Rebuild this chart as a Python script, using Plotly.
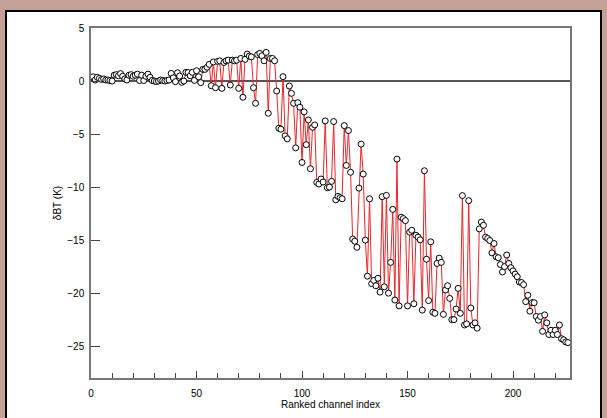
import plotly.graph_objects as go

# Ranked channel index values (0..226) and brightness temperature differences (K)
dbt = [
    0.35, 0.4, 0.1, 0.35, 0.25, 0.15, 0.2, 0.1, 0.1, 0.05,
    0.0, 0.55, 0.6, 0.5, 0.7, 0.45, 0.2, 0.1, 0.55, 0.6,
    0.45, 0.55, 0.65, 0.05, 0.55, 0.05, 0.45, 0.65, 0.35, 0.05,
    0.0, -0.05, 0.0, 0.1, 0.05, 0.0, 0.05, 0.1,
    0.72, 0.3, -0.06, 0.78, 0.47, -0.12, 0.0, 0.82, 0.8, 0.5,
    0.82, 0.06, 0.97, 0.4, -0.15, 1.1, 1.1, 1.3, 1.57, -0.44,
    1.8, -0.63, 1.85, 1.9, -0.69, 1.75, 1.9, 1.97, -0.38, 1.97,
    1.9, 1.97, -0.69, 2.13, -1.53, 2.04, 2.54, 2.35, 2.28, -0.63,
    -2.1, 2.5, 2.6, 2.38, 1.91, 2.7, -3.04, 2.13, 2.13, 1.91,
    -0.94, -4.45, -4.54, 0.41, -5.17, -5.45, -0.47, -1.16, -2.1, -6.3,
    -2.04, -2.47, -7.68, -2.91, -6.0, -3.67, -8.27, -4.36, -4.14, -9.56,
    -9.71, -9.24, -9.52, -3.76, -10.06, -10.0, -9.46, -3.82, -11.2, -10.87,
    -11.0, -11.1, -4.2, -7.96, -4.67, -8.6, -14.9, -15.1, -15.67, -10.1,
    -5.95, -8.77, -15.0, -18.4, -11.1, -19.1, -18.8, -19.3, -18.6, -19.9,
    -10.9, -19.4, -10.78, -20.0, -17.1, -12.1, -20.65, -7.36, -21.2, -12.84,
    -12.97, -13.16, -21.2, -14.25, -14.07, -21.0, -14.54, -14.72, -14.97, -21.6,
    -8.46, -16.8, -20.7, -15.16, -21.8, -21.9, -17.2, -16.7, -17.1, -22.0,
    -19.7, -19.3, -20.5, -22.5, -22.5, -21.5, -19.55, -21.9, -10.8, -23.0,
    -22.9, -11.28, -21.4, -23.0, -22.8, -23.3, -13.94, -13.3, -13.6, -14.72,
    -14.85, -15.04, -16.2, -15.32, -16.57, -16.66, -17.3, -18.0, -17.5, -16.4,
    -17.2, -17.6, -17.9, -18.2, -18.45, -18.95, -19.0, -19.2, -20.8, -20.2,
    -21.7, -20.9, -20.9, -22.2, -22.55, -22.2, -23.6, -22.05, -22.8, -23.9,
    -23.5, -23.9, -23.5, -23.9, -23.0, -24.3, -24.4, -24.6, -24.66,
]
channel = list(range(len(dbt)))

x_ticks = [0, 50, 100, 150, 200]
y_ticks = [5, 0, -5, -10, -15, -20, -25]

fig = go.Figure()
fig.add_trace(go.Scatter(
    x=channel, y=dbt, mode="lines+markers",
    line=dict(color="#e8262a", width=1),
    marker=dict(size=6, color="white", line=dict(color="black", width=1)),
    showlegend=False,
))

# plot-area pixel geometry: x 91..570, y 28..378
L, R, T, B = 91, 570, 28, 378
W, H = R - L, B - T
def px(xp):
    return (xp - L) / W
def py(yp):
    return (B - yp) / H

fig.add_shape(type="rect", xref="paper", yref="paper", layer="below",
              x0=px(6), x1=px(601), y0=py(425), y1=py(11),
              fillcolor="white", line=dict(color="black", width=2))

fig.update_layout(
    width=607, height=418,
    margin=dict(l=L, r=607 - R, t=T, b=418 - B),
    paper_bgcolor="#c4a196",
    plot_bgcolor="white",
    font=dict(family="Liberation Sans, Arial, sans-serif", size=10, color="black"),
)
fig.update_xaxes(
    range=[0, 227], tickvals=x_ticks, ticks="inside", ticklen=7, tickwidth=1,
    tickcolor="#444", showgrid=False, zeroline=False, automargin=False,
    showline=True, linecolor="#777", linewidth=1.5, mirror=True,
    minor=dict(dtick=10, tick0=0, ticks="inside", ticklen=5, tickcolor="#444", showgrid=False),
    ticklabelstandoff=5,
    title=dict(text="Ranked channel index", standoff=3, font=dict(size=10)),
    tickfont=dict(size=10),
)
fig.update_yaxes(
    range=[-28, 5], tickvals=y_ticks, ticks="inside", ticklen=9, tickwidth=1,
    tickcolor="#444", showgrid=False, automargin=False,
    zeroline=True, zerolinecolor="#555", zerolinewidth=1.5,
    showline=True, linecolor="#777", linewidth=1.5, mirror=True,
    ticklabelstandoff=3,
    title=dict(text="δBT (K)", standoff=4, font=dict(size=10)),
    tickfont=dict(size=10),
)

fig.write_html("out.html")
